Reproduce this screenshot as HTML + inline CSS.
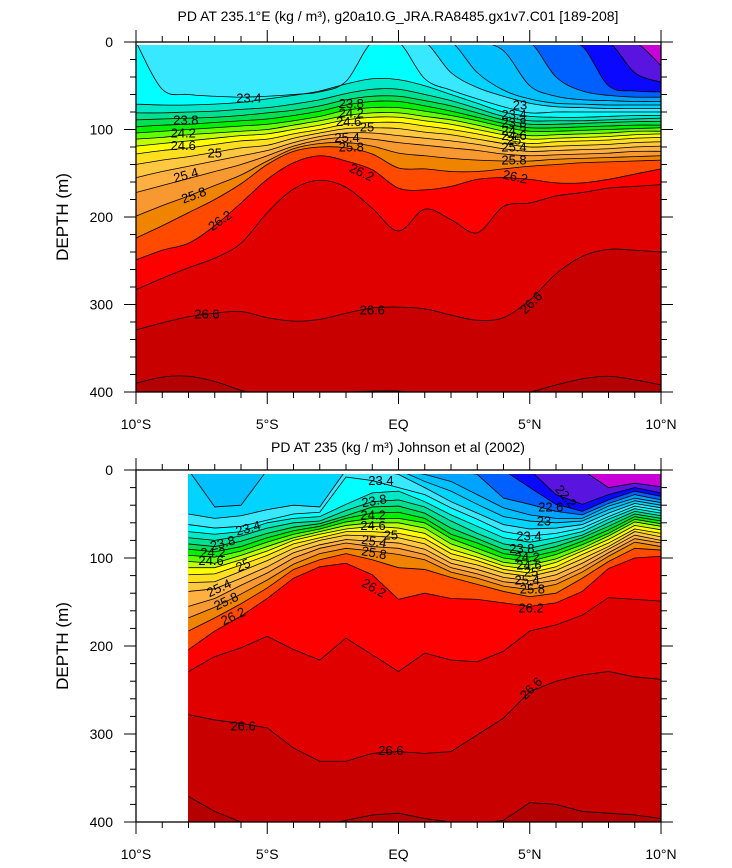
<!DOCTYPE html>
<html><head><meta charset="utf-8"><style>
html,body{margin:0;padding:0;background:#fff}
svg{display:block;font-family:"Liberation Sans",sans-serif}
</style></head><body>
<svg id="chart" width="732" height="868" viewBox="0 0 732 868" xmlns="http://www.w3.org/2000/svg">
<defs>
<clipPath id="clipTop"><rect x="136" y="45" width="525" height="347"/></clipPath>
<clipPath id="clipBot"><rect x="188" y="474" width="473" height="348"/></clipPath>
</defs>
<text x="398" y="21" font-size="14" text-anchor="middle">PD AT 235.1°E (kg / m³), g20a10.G_JRA.RA8485.gx1v7.C01 [189-208]</text>
<text x="398" y="452" font-size="14" text-anchor="middle">PD AT 235 (kg / m³) Johnson et al (2002)</text>
<text transform="translate(68,217) rotate(-90)" font-size="17" text-anchor="middle">DEPTH (m)</text>
<text transform="translate(68,646) rotate(-90)" font-size="17" text-anchor="middle">DEPTH (m)</text>
<g id="topPanel"></g>
<g id="botPanel"></g>
</svg>
<script>
// ---- levels and band colours ----
const levels = [22.0,22.2,22.4,22.6,22.8,23.0,23.2,23.4,23.6,23.8,24.0,24.2,24.4,24.6,24.8,25.0,25.2,25.4,25.6,25.8,26.0,26.2,26.4,26.6,26.8];
const baseColor = "#c800d8";
const bandColors = ["#5a14e0","#0a08ff","#0060ff","#00a4ff","#00c0ff","#00d4ff","#38e8ff","#00ffff","#00e8c8","#00e090","#00e050","#00f000","#60ff00","#c0ff00","#ffff00","#ffe020","#ffc840","#ffb040","#f89830","#f08400","#ff4a00","#ff0000","#e00000","#c80000","#b40000"];

// ---- top panel (model): latitudes -10..10, isopycnal depths (m) ----
const topLats = [-10,-9,-8,-7,-6,-5,-4,-3,-2,-1,0,1,2,3,4,5,6,7,8,9,10];
const T220 = [0,0,0,0,0,0,0,0,0,0,0,0,0,0,0,0,0,0,0,0,27];
const T222 = [0,0,0,0,0,0,0,0,0,0,0,0,0,0,0,0,0,0,0,35,46];
const T224 = [0,0,0,0,0,0,0,0,0,0,0,0,0,0,0,0,0,5,50,56,57];
const T226 = [0,0,0,0,0,0,0,0,0,0,0,0,0,0,0,0,40,56,61,63,63];
const T228 = [0,0,0,0,0,0,0,0,0,0,0,0,0,0,10,50,62,66,67,68,68];
const T230 = [0,0,0,0,0,0,0,0,0,0,0,0,0,35,55,65,70,71,72,72,72];
const T232 = [0,0,0,0,0,0,0,0,0,0,0,0,35,52,62,70,74,75,76,76,76];
const T234 = [0,54,60,62,63,62,60,57,45,0,0,42,55,65,74,81,80,80,80,80,80];
const T236 = [71,72,72,71,69,65,61,56,48,42,43,50,60,70,80,85,86,86,85,84,84];
const T238 = [81,81,80,79,77,75,71,66,59,54,54,60,67,76,85,90,90,90,89,88,87];
const T240 = [89,88,87,86,84,81,78,73,66,62,62,67,73,81,89,94,94,93,92,91,91];
const T242 = [97,95,94,92,90,88,84,79,72,68,68,73,79,86,93,98,98,97,96,95,95];
const T244 = [104,102,100,98,96,94,90,85,78,75,75,79,84,90,97,102,102,101,100,99,98];
const T246 = [111,109,106,104,102,100,95,90,84,81,81,85,89,95,102,107,106,105,104,102,102];
const T248 = [119,116,113,110,107,105,100,95,89,86,86,90,94,100,106,111,110,109,108,106,105];
const T250 = [128,124,121,117,113,111,105,100,94,92,92,96,100,105,111,116,114,113,112,110,109];
const T252 = [140,135,131,126,121,118,110,104,99,98,99,103,106,111,116,120,119,118,117,115,114];
const T254 = [155,148,142,136,130,124,115,108,104,104,107,110,113,117,122,125,124,123,122,120,119];
const T256 = [172,164,156,148,140,130,119,112,109,111,115,118,121,124,128,130,129,128,127,125,125];
const T258 = [199,187,176,164,152,136,122,116,115,119,127,130,133,135,136,136,134,133,132,131,130];
const T260 = [224,210,195,180,162,140,125,120,121,128,144,145,148,148,145,142,140,138,137,136,135];
const T262 = [249,238,230,210,184,157,138,130,136,146,167,169,165,157,155,157,161,161,157,151,145];
const T264 = [283,270,258,247,230,195,168,158,166,190,216,191,203,218,188,184,176,172,167,165,163];
const T266 = [329,321,314,310,308,315,319,317,310,304,303,305,312,318,315,295,265,245,237,238,240];
const T268 = [390,383,382,388,398,405,405,402,400,399,399,402,405,405,403,400,392,385,382,386,392];
const topLines = [T220,T222,T224,T226,T228,T230,T232,T234,T236,T238,T240,T242,T244,T246,T248,T250,T252,T254,T256,T258,T260,T262,T264,T266,T268];
const topLabelText = ["23.4","23.8","24.2","24.6","25","25.4","25.8","26.2","26.6","26.6","23.8","24.2","24.6","25","25.4","25.8","26.2","23","23.4","23.8","24.2","24.6","25","25.4","25.8","26.2","26.6"];
const topLabelLat = [-5.7,-8.1,-8.2,-8.2,-7.0,-8.1,-7.8,-6.8,-7.3,-1.0,-1.8,-1.8,-1.9,-1.2,-1.96,-1.8,-1.4,4.63,4.4,4.4,4.4,4.4,4.4,4.4,4.4,4.45,5.05];
const topLabelDepth = [64,89,104,118,127,152,175,204,311,306,70,81,91,97,109,120,149,72,83,92,101,107,112,120,135,154,298];
const topLabelAngle = [0,0,0,0,0,-15,-20,-35,0,0,0,0,0,0,0,0,25,0,0,0,0,0,0,0,0,12,-45];

// ---- bottom panel (Johnson et al): latitudes -8..10 ----
const botLats = [-8,-7,-6,-5,-4,-3,-2,-1,0,1,2,3,4,5,6,7,8,9,10];
const B220 = [0,0,0,0,0,0,0,0,0,0,0,0,0,0,0,0,20,15,19];
const B222 = [0,0,0,0,0,0,0,0,0,0,0,0,0,0,28,39,28,20,26];
const B224 = [0,0,0,0,0,0,0,0,0,0,0,0,0,20,39,47,34,24,30];
const B226 = [0,0,0,0,0,0,0,0,0,0,0,5,32,39,47,51,38,28,34];
const B228 = [0,0,0,0,0,0,0,0,0,5,13,28,43,51,55,55,41,32,37];
const B230 = [0,42,40,0,0,0,0,0,0,13,24,39,53,58,60,58,45,35,40];
const B232 = [50,55,52,45,40,42,0,0,5,20,36,49,62,67,66,62,49,38,43];
const B234 = [62,66,64,57,50,48,8,12,20,28,43,56,70,75,72,66,53,41,46];
const B236 = [70,73,70,60,55,53,39,26,24,36,51,64,77,82,77,70,56,44,49];
const B238 = [77,80,75,66,60,58,46,36,34,42,58,72,84,89,82,74,60,47,52];
const B240 = [84,87,81,72,65,61,52,42,41,49,66,78,90,94,87,77,64,50,55];
const B242 = [90,93,87,77,69,64,55,49,48,55,73,83,95,99,92,81,68,53,58];
const B244 = [97,99,92,82,73,67,59,55,55,60,78,89,100,104,96,85,72,56,61];
const B246 = [104,106,97,87,77,70,63,60,60,66,84,94,105,108,101,89,75,59,64];
const B248 = [111,111,102,92,80,73,67,64,66,72,90,99,109,113,105,92,79,63,68];
const B250 = [119,118,108,97,84,77,70,70,72,78,95,103,113,117,110,96,83,67,72];
const B252 = [128,127,115,103,89,80,74,75,77,84,101,108,117,121,114,101,87,70,76];
const B254 = [138,135,123,110,94,85,79,81,83,90,106,113,122,126,119,106,90,74,80];
const B256 = [155,146,131,117,100,89,83,87,89,96,111,118,127,130,125,111,94,78,83];
const B258 = [168,156,141,125,107,95,89,92,96,102,116,123,132,136,130,116,98,82,87];
const B260 = [183,168,152,134,113,102,95,102,111,113,122,130,138,144,140,123,104,89,91];
const B262 = [204,183,166,146,123,110,106,119,147,140,146,147,151,155,151,138,112,100,98];
const B264 = [229,212,202,189,204,216,191,210,229,208,216,218,206,183,176,165,145,147,149];
const B266 = [278,284,288,293,316,331,331,322,320,322,320,301,282,252,240,233,229,235,238];
const B268 = [371,388,400,400,400,405,398,392,390,396,400,402,398,378,380,388,390,392,396];
const botLines = [B220,B222,B224,B226,B228,B230,B232,B234,B236,B238,B240,B242,B244,B246,B248,B250,B252,B254,B256,B258,B260,B262,B264,B266,B268];
const botLabelText = ["23.4","23.8","24.2","24.6","25","25.4","25.8","26.2","26.6","26.6","23.4","23.8","24.2","24.6","25","25.4","25.8","26.2","22.2","22.6","23","23.4","23.8","24.2","24.6","25","25.4","25.8","26.2","26.6"];
const botLabelLat = [-5.73,-6.7,-7.07,-7.14,-5.92,-6.84,-6.57,-6.3,-5.92,-0.29,-0.67,-0.93,-0.97,-0.97,-0.29,-0.93,-0.93,-0.93,6.38,5.8,5.54,4.97,4.7,4.9,4.97,5.05,4.9,5.1,5.05,5.05];
const botLabelDepth = [66,83,94,103,108,134,149,166,291,319,12,35,51,63,74,81,94,134,30,42,58,75,89,99,108,116,125,135,157,248];
const botLabelAngle = [-15,-15,0,0,-25,-25,-25,-25,0,0,0,-10,0,0,0,10,10,30,50,0,0,0,0,0,0,0,0,0,0,-45];

const xTickVals = [-10,-5,0,5,10];
const xTickText = ["10°S","5°S","EQ","5°N","10°N"];
const yTickVals = [0,100,200,300,400];

const NS = "http://www.w3.org/2000/svg";
function mk(tag, attrs, parent){
  const e = document.createElementNS(NS, tag);
  for (const k in attrs) e.setAttribute(k, attrs[k]);
  parent.appendChild(e);
  return e;
}
function smoothPath(pts){
  let d = "M" + pts[0][0].toFixed(2) + "," + pts[0][1].toFixed(2);
  for (let i = 0; i < pts.length - 1; i++){
    const p0 = pts[Math.max(i-1,0)], p1 = pts[i], p2 = pts[i+1], p3 = pts[Math.min(i+2, pts.length-1)];
    const c1x = p1[0] + (p2[0]-p0[0])/6, c1y = p1[1] + (p2[1]-p0[1])/6;
    const c2x = p2[0] - (p3[0]-p1[0])/6, c2y = p2[1] - (p3[1]-p1[1])/6;
    d += " C" + c1x.toFixed(2) + "," + c1y.toFixed(2) + " " + c2x.toFixed(2) + "," + c2y.toFixed(2) + " " + p2[0].toFixed(2) + "," + p2[1].toFixed(2);
  }
  return d;
}
function linPath(pts){
  return "M" + pts.map(p => p[0].toFixed(2) + "," + p[1].toFixed(2)).join(" L");
}

function drawPanel(g, cfg){
  const xS = lat => cfg.x0 + (lat + 10) / 20 * (cfg.x1 - cfg.x0);
  const yS = d => cfg.y0 + d / 400 * (cfg.y1 - cfg.y0);
  const pathFn = cfg.smooth ? smoothPath : linPath;
  const data = mk("g", {"clip-path": "url(#" + cfg.clip + ")"}, g);
  
  
  const bg = mk("rect", {x: cfg.x0, y: cfg.y0, width: cfg.x1-cfg.x0, height: cfg.y1-cfg.y0, fill: baseColor}, data);
  
  
  const lats = cfg.lats;
  const lineDs = [];
  cfg.lines.forEach((arr, i) => {
    const pts = arr.map((d, j) => [xS(lats[j]), yS(d)]);
    const lp = pathFn(pts);
    lineDs.push(lp);
    const fillD = lp + " L" + xS(lats[lats.length-1]).toFixed(2) + "," + (cfg.y1+20) + " L" + xS(lats[0]).toFixed(2) + "," + (cfg.y1+20) + " Z";
    const f = mk("path", {d: fillD, fill: bandColors[i], stroke: bandColors[i], "stroke-width": 0.6}, data);
    
    
  });
  lineDs.forEach((lp, i) => {
    const l = mk("path", {d: lp, fill: "none", stroke: "#000", "stroke-width": 0.8}, data);
    
    
  });
  cfg.lt.forEach((t, i) => {
    const x = xS(cfg.llat[i]), y = yS(cfg.ldep[i]);
    const tx = mk("text", {x: x, y: y + 4.5, "font-size": 13, "text-anchor": "middle", transform: "rotate(" + cfg.lang[i] + " " + x + " " + y + ")"}, data);
    tx.textContent = t;
    
    
  });
  // frame
  const fr = mk("rect", {x: cfg.x0, y: cfg.y0, width: cfg.x1-cfg.x0, height: cfg.y1-cfg.y0, fill: "none", stroke: "#000", "stroke-width": 1.3}, g);
  
  
  // x ticks
  const ax = mk("g", {stroke: "#000", "stroke-width": 1}, g);
  
  
  for (let lat = -10; lat <= 10; lat++){
    const major = xTickVals.indexOf(lat) >= 0;
    const len = major ? 12 : 6;
    const x = xS(lat);
    mk("line", {x1: x, x2: x, y1: cfg.y1, y2: cfg.y1 + len}, ax);
    mk("line", {x1: x, x2: x, y1: cfg.y0, y2: cfg.y0 - len}, ax);
  }
  for (let d = 0; d <= 400; d += 20){
    const major = d % 100 === 0;
    const len = major ? 12 : 6;
    const y = yS(d);
    mk("line", {x1: cfg.x0, x2: cfg.x0 - len, y1: y, y2: y}, ax);
    mk("line", {x1: cfg.x1, x2: cfg.x1 + len, y1: y, y2: y}, ax);
  }
  xTickVals.forEach((v, i) => {
    const t = mk("text", {x: xS(v), y: cfg.y1 + 37, "font-size": 14, "text-anchor": "middle"}, g);
    t.textContent = xTickText[i];
    
    
  });
  yTickVals.forEach(v => {
    const t = mk("text", {x: 113, y: yS(v) + 5, "font-size": 14, "text-anchor": "end"}, g);
    t.textContent = String(v);
    
    
  });
}

drawPanel(document.getElementById("topPanel"), {
  x0: 136, x1: 661, y0: 42, y1: 392, clip: "clipTop", smooth: true, prefix: "top",
  lats: topLats, lines: topLines,
  lt: topLabelText, llat: topLabelLat, ldep: topLabelDepth, lang: topLabelAngle
});
drawPanel(document.getElementById("botPanel"), {
  x0: 136, x1: 661, y0: 470, y1: 822, clip: "clipBot", smooth: false, prefix: "bottom",
  lats: botLats, lines: botLines,
  lt: botLabelText, llat: botLabelLat, ldep: botLabelDepth, lang: botLabelAngle
});
</script>
</body></html>
